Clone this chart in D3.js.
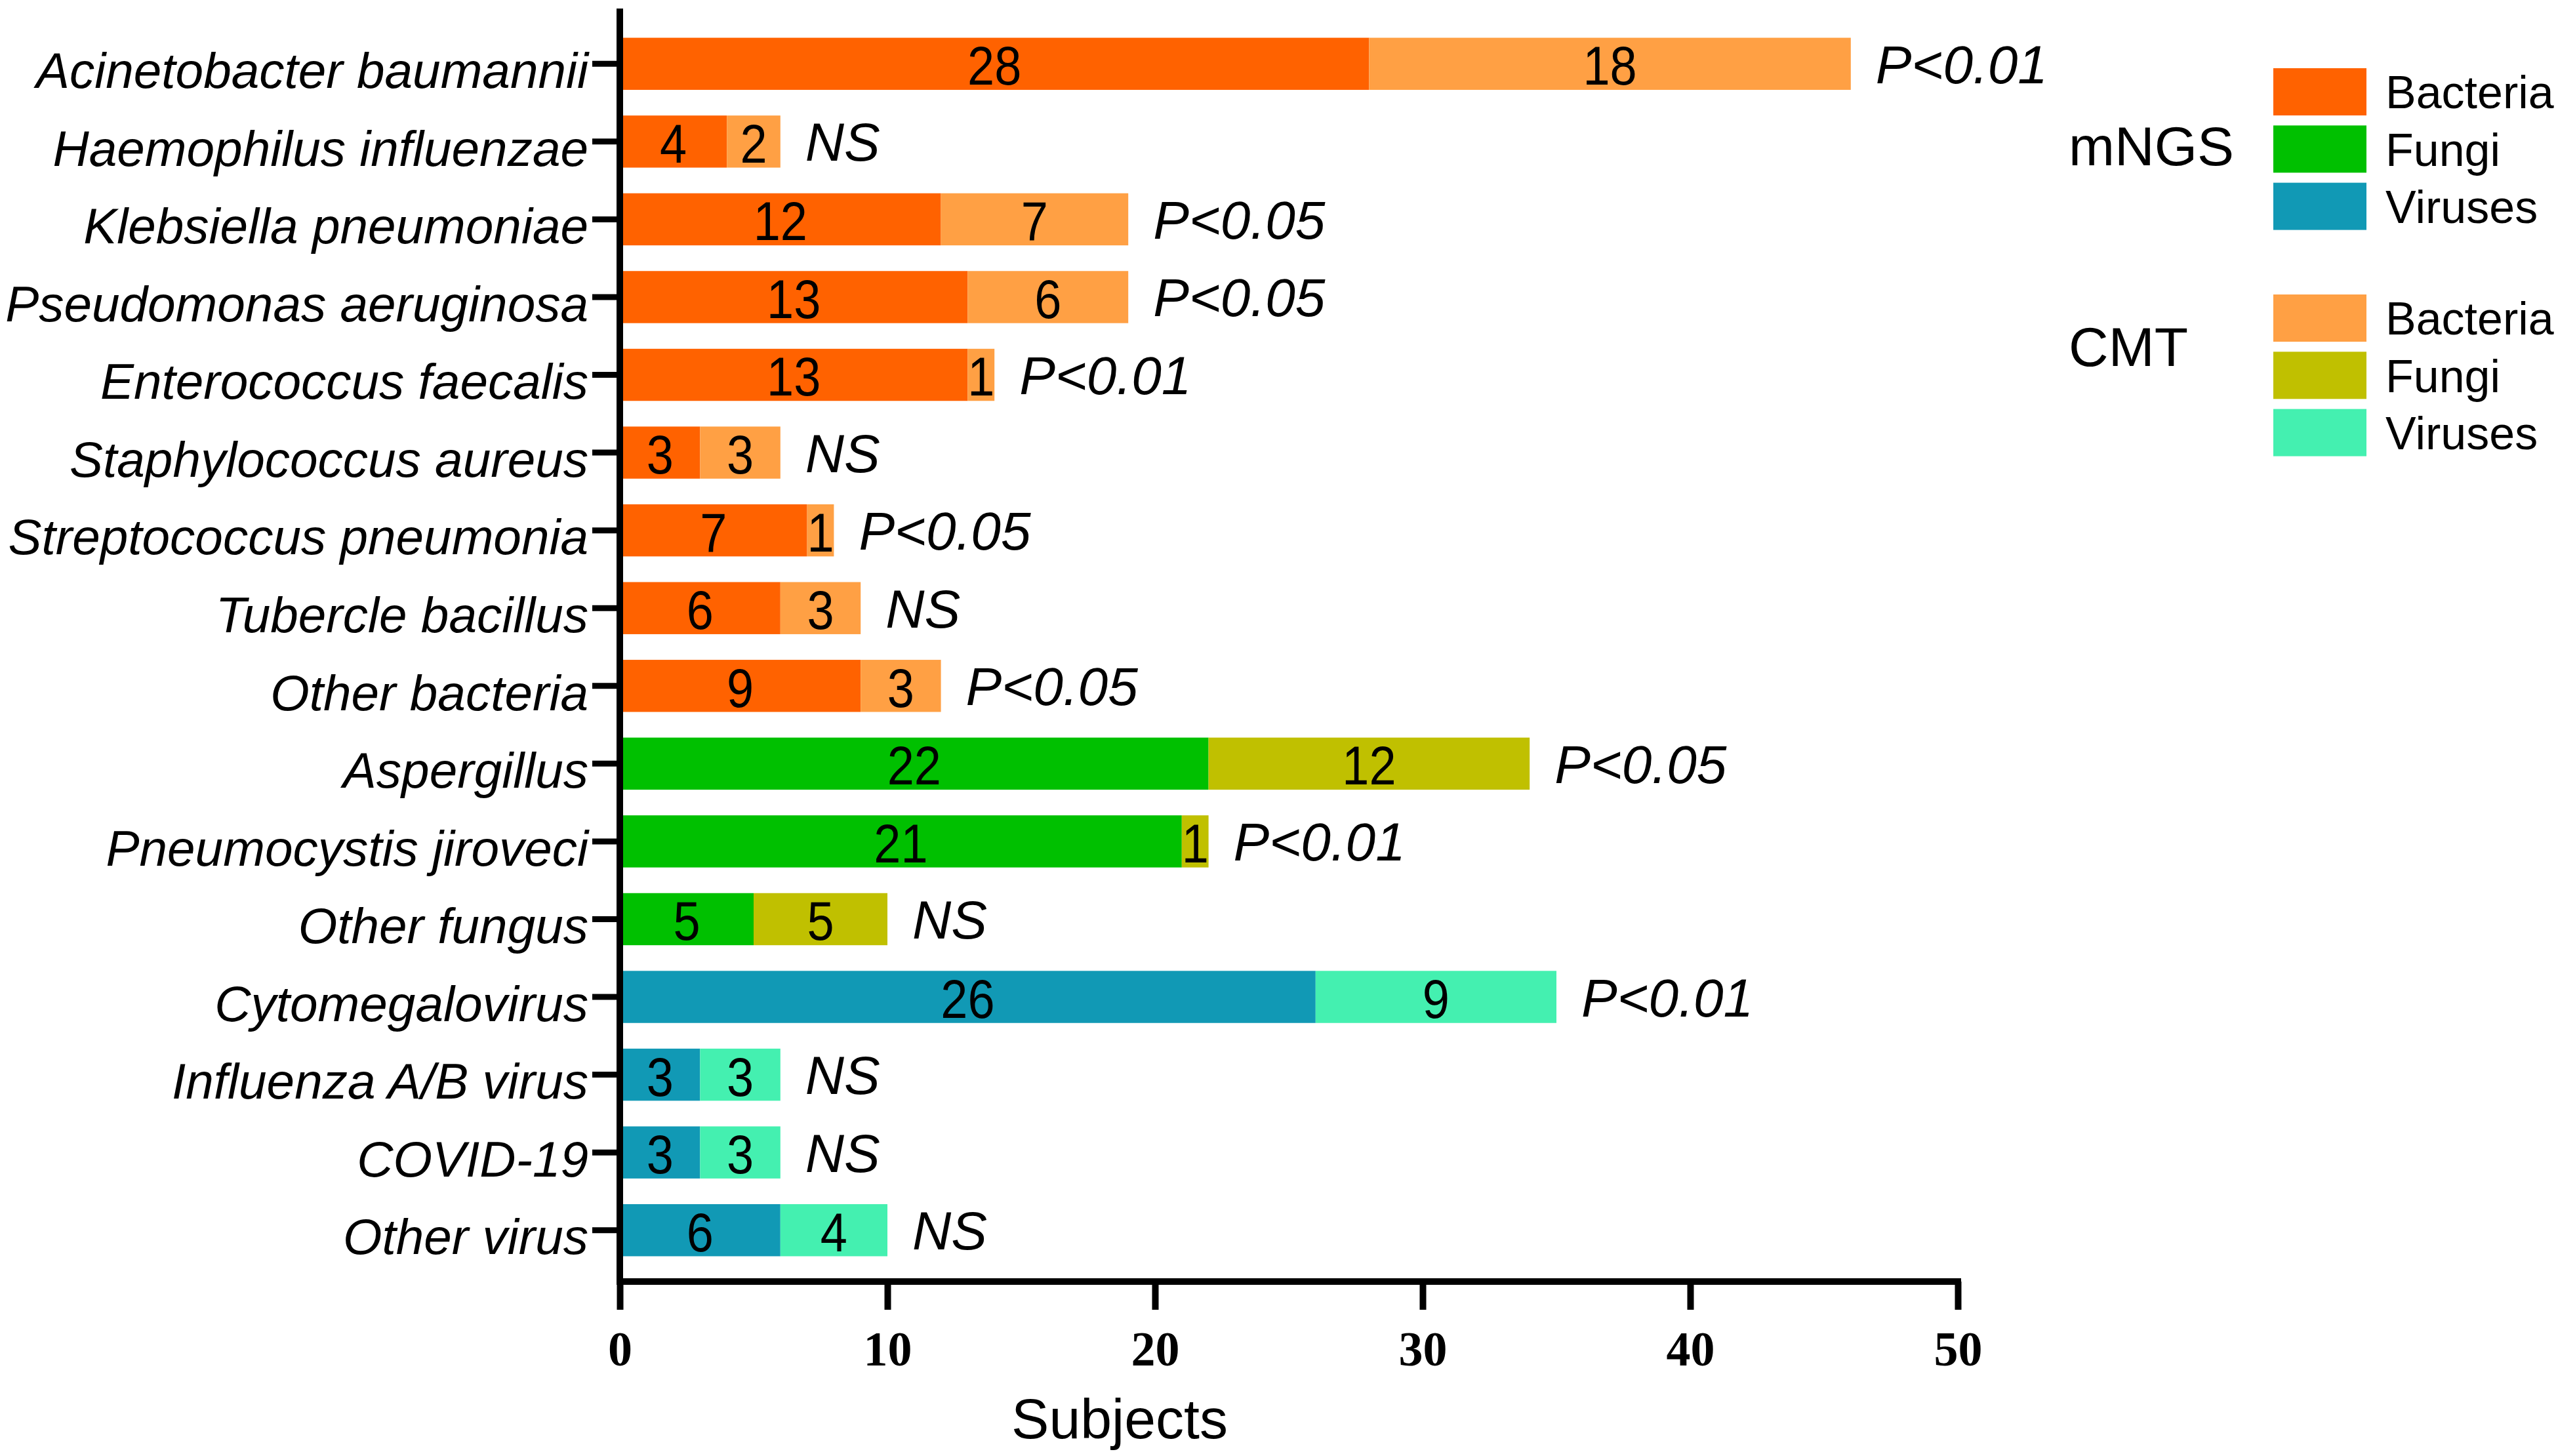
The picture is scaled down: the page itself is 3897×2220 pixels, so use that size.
<!DOCTYPE html>
<html>
  <head>
    <script src="https://d3js.org/d3.v7.min.js"></script>
    <style>
      body { margin: 0; background: #fff; }
      svg { display: block; }
      text { font-family: "Liberation Sans", Arial, sans-serif; fill: #000; }
      .cat { font-style: italic; font-size: 76.5px; }
      .val { font-size: 84px; }
      .pval { font-style: italic; font-size: 82px; }
      .xtick text { font-family: "Liberation Serif", "Times New Roman", serif; font-weight: bold; font-size: 74px; }
      .legend { font-size: 70px; }
      .legendTitle { font-size: 84px; }
    </style>
  </head>
  <body>
    <svg width="3897" height="2220"></svg>
    <script>
      // data
      var categories = ["Acinetobacter baumannii", "Haemophilus influenzae", "Klebsiella pneumoniae",
        "Pseudomonas aeruginosa", "Enterococcus faecalis", "Staphylococcus aureus",
        "Streptococcus pneumonia", "Tubercle bacillus", "Other bacteria", "Aspergillus",
        "Pneumocystis jiroveci", "Other fungus", "Cytomegalovirus", "Influenza A/B virus",
        "COVID-19", "Other virus"];
      var kinds = ["Bacteria", "Bacteria", "Bacteria", "Bacteria", "Bacteria", "Bacteria",
        "Bacteria", "Bacteria", "Bacteria", "Fungi", "Fungi", "Fungi",
        "Viruses", "Viruses", "Viruses", "Viruses"];
      var mngs = [28, 4, 12, 13, 13, 3, 7, 6, 9, 22, 21, 5, 26, 3, 3, 6];
      var cmt = [18, 2, 7, 6, 1, 3, 1, 3, 3, 12, 1, 5, 9, 3, 3, 4];
      var pLabels = ["P<0.01", "NS", "P<0.05", "P<0.05", "P<0.01", "NS", "P<0.05", "NS",
        "P<0.05", "P<0.05", "P<0.01", "NS", "P<0.01", "NS", "NS", "NS"];
      var xTicks = [0, 10, 20, 30, 40, 50];
      var methods = ["mNGS", "CMT"];
      var kindNames = ["Bacteria", "Fungi", "Viruses"];

      var colors = {
        mNGS: { Bacteria: "#ff6200", Fungi: "#00c000", Viruses: "#1199b5" },
        CMT: { Bacteria: "#ffa044", Fungi: "#c0c000", Viruses: "#44f0b0" }
      };

      var svg = d3.select("svg");

      var x = d3.scaleLinear().domain([0, 50]).range([945, 2985]);
      var y = d3.scaleBand().domain(categories).range([38, 1935])
          .paddingInner(0.33).paddingOuter(0.165);
      var axisY = 1954;

      var rows = categories.map(function(c, i) {
        return { cat: c, kind: kinds[i], a: mngs[i], b: cmt[i], p: pLabels[i] };
      });
      function mid(d) { return y(d.cat) + y.bandwidth() / 2; }

      // bars
      var g = svg.append("g");
      g.selectAll("rect.m").data(rows).join("rect")
          .attr("x", x(0) + 4)
          .attr("y", function(d) { return y(d.cat); })
          .attr("width", function(d) { return x(d.a) - x(0) - 4; })
          .attr("height", y.bandwidth())
          .attr("fill", function(d) { return colors.mNGS[d.kind]; });
      g.selectAll("rect.c").data(rows).join("rect")
          .attr("x", function(d) { return x(d.a); })
          .attr("y", function(d) { return y(d.cat); })
          .attr("width", function(d) { return x(d.a + d.b) - x(d.a); })
          .attr("height", y.bandwidth())
          .attr("fill", function(d) { return colors.CMT[d.kind]; });

      // values inside the segments (slightly condensed like the original)
      g.selectAll("text.vm").data(rows).join("text")
          .attr("class", "val")
          .attr("text-anchor", "middle")
          .attr("transform", function(d) { return "translate(" + x(d.a / 2) + "," + mid(d) + ") scale(0.88,1)"; })
          .attr("dy", "0.38em")
          .text(function(d) { return d.a; });
      g.selectAll("text.vc").data(rows).join("text")
          .attr("class", "val")
          .attr("text-anchor", "middle")
          .attr("transform", function(d) { return "translate(" + x(d.a + d.b / 2) + "," + mid(d) + ") scale(0.88,1)"; })
          .attr("dy", "0.38em")
          .text(function(d) { return d.b; });

      // significance
      g.selectAll("text.p").data(rows).join("text")
          .attr("class", "pval")
          .attr("x", function(d) { return x(d.a + d.b) + 38; })
          .attr("y", mid)
          .attr("dy", "0.36em")
          .text(function(d) { return d.p; });

      // y axis
      var ya = svg.append("g")
          .attr("transform", "translate(" + x(0) + ",0)")
          .call(d3.axisLeft(y).tickSize(42).tickPadding(6));
      ya.select(".domain").remove();
      ya.selectAll(".tick line").attr("stroke", "#000").attr("stroke-width", 9);
      ya.selectAll(".tick text").attr("class", "cat").attr("dy", "0.48em").attr("fill", "#000");
      svg.append("line")
          .attr("x1", x(0)).attr("x2", x(0))
          .attr("y1", 13).attr("y2", axisY)
          .attr("stroke", "#000").attr("stroke-width", 10);

      // x axis
      var xa = svg.append("g")
          .attr("class", "xtick")
          .attr("transform", "translate(0," + axisY + ")")
          .call(d3.axisBottom(x).tickValues(xTicks).tickSize(43).tickSizeOuter(0));
      xa.select(".domain").attr("stroke", "#000").attr("stroke-width", 10)
          .attr("d", "M" + (x(0) - 5) + ",0H" + (x(50) + 5));
      xa.selectAll(".tick line").attr("stroke", "#000").attr("stroke-width", 10);
      xa.selectAll(".tick text").attr("fill", "#000").attr("y", 128).attr("dy", 0);

      svg.append("text")
          .attr("x", 1707)
          .attr("y", 2193)
          .attr("text-anchor", "middle")
          .attr("font-size", 86)
          .text("Subjects");

      // legend
      var leg = svg.append("g");
      methods.forEach(function(m, mi) {
        var top = 104 + mi * 345;
        leg.append("text")
            .attr("class", "legendTitle")
            .attr("x", 3154)
            .attr("y", mi === 0 ? 252 : 558)
            .text(m);
        kindNames.forEach(function(k, ki) {
          var yy = top + ki * 87.3;
          leg.append("rect")
              .attr("x", 3466).attr("y", yy)
              .attr("width", 142).attr("height", 72)
              .attr("fill", colors[m][k]);
          leg.append("text")
              .attr("class", "legend")
              .attr("x", 3637)
              .attr("y", yy + 36)
              .attr("dy", "0.36em")
              .text(k);
        });
      });
    </script>
  </body>
</html>
